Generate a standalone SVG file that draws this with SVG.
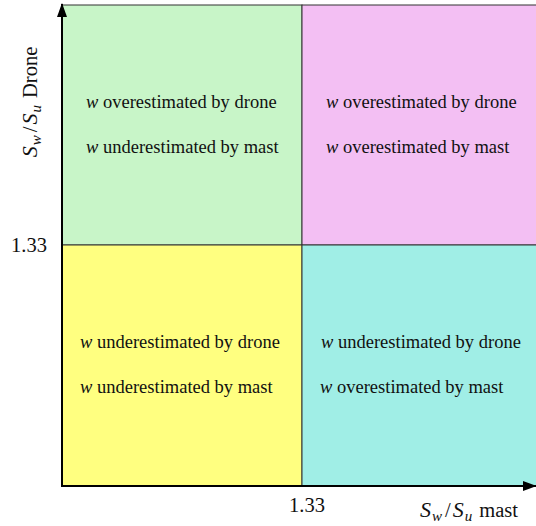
<svg xmlns="http://www.w3.org/2000/svg" width="536" height="526" viewBox="0 0 536 526">
<defs>
<style>
.q{stroke:#333;stroke-width:1}
.t{font-family:"Liberation Serif","Times New Roman",serif;font-size:18.5px;fill:#111}
.l{font-family:"Liberation Serif","Times New Roman",serif;font-size:20.5px;fill:#111}
.m{font-style:italic;font-size:22px}
.s{font-style:italic;font-size:15px}
.ax{stroke:#000;stroke-width:2;fill:none}
</style>
<marker id="ah" viewBox="0 0 14 10" refX="13" refY="5" markerWidth="14" markerHeight="10" markerUnits="userSpaceOnUse" orient="auto">
<path d="M0,0 L14,5 L0,10 Z" fill="#000"/>
</marker>
</defs>
<g id="q-green"><rect class="q" x="62" y="5" width="240" height="240" fill="#c8f5c8"/>
<text class="t" x="86" y="108"><tspan font-style="italic">w</tspan> overestimated by drone</text>
<text class="t" x="86" y="153"><tspan font-style="italic">w</tspan> underestimated by mast</text></g>
<g id="q-pink"><rect class="q" x="302" y="5" width="240" height="240" fill="#f3bff3"/>
<text class="t" x="326" y="108"><tspan font-style="italic">w</tspan> overestimated by drone</text>
<text class="t" x="326" y="153"><tspan font-style="italic">w</tspan> overestimated by mast</text></g>
<g id="q-yellow"><rect class="q" x="62" y="245" width="240" height="241" fill="#ffff80"/>
<text class="t" x="80" y="348"><tspan font-style="italic">w</tspan> underestimated by drone</text>
<text class="t" x="80" y="393"><tspan font-style="italic">w</tspan> underestimated by mast</text></g>
<g id="q-cyan"><rect class="q" x="302" y="245" width="240" height="241" fill="#a0eee6"/>
<text class="t" x="321" y="348"><tspan font-style="italic">w</tspan> underestimated by drone</text>
<text class="t" x="320" y="393"><tspan font-style="italic">w</tspan> overestimated by mast</text></g>
<g id="axes">
<path class="ax" d="M62,487 L62,4" marker-end="url(#ah)"/>
<path class="ax" d="M61,486 L536,486" marker-end="url(#ah)"/>
</g>
<g id="labels">
<text class="l" x="29" y="252" text-anchor="middle">1.33</text>
<text class="l" x="307" y="512" text-anchor="middle">1.33</text>
<text class="l" x="469" y="517" text-anchor="middle"><tspan class="m">S</tspan><tspan class="s" dx="1" dy="4">w</tspan><tspan dx="3" dy="-4">/</tspan><tspan class="m" dx="2">S</tspan><tspan class="s" dx="1" dy="4">u</tspan><tspan dx="2" dy="-4"> mast</tspan></text>
<text class="l" transform="translate(37,102) rotate(-90)" text-anchor="middle"><tspan class="m">S</tspan><tspan class="s" dx="1" dy="4">w</tspan><tspan dx="3" dy="-4">/</tspan><tspan class="m" dx="2">S</tspan><tspan class="s" dx="1" dy="4">u</tspan><tspan dx="2" dy="-4"> Drone</tspan></text>
</g>
</svg>
